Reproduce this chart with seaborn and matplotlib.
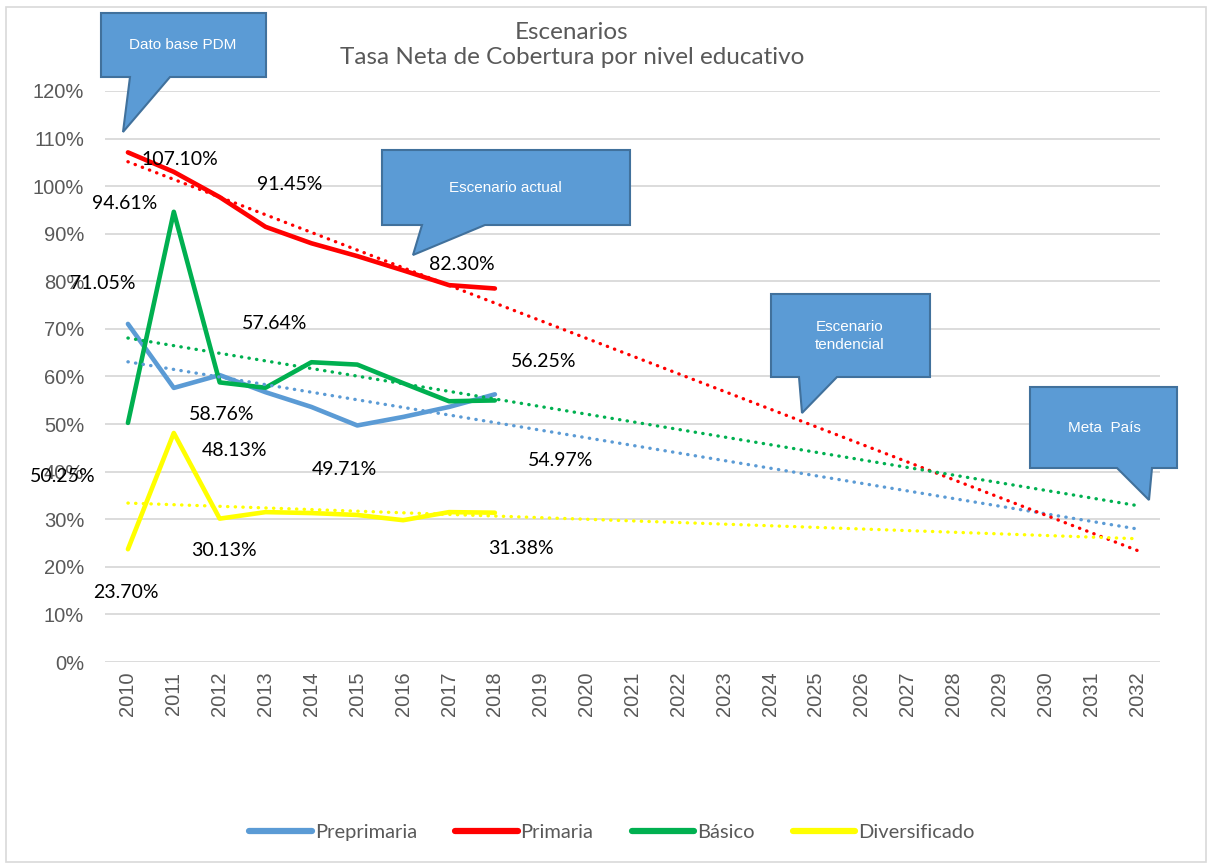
import seaborn as sns, matplotlib.pyplot as plt, pandas as pd, numpy as np
from matplotlib.patches import Polygon, Rectangle
from matplotlib.ticker import PercentFormatter

# datos
anios = list(range(2010, 2033))
anios_datos = [2010, 2011, 2012, 2013, 2014, 2015, 2016, 2017, 2018]
preprimaria = [0.7105, 0.576, 0.603, 0.567, 0.536, 0.4971, 0.515, 0.536, 0.5625]
primaria = [1.071, 1.030, 0.977, 0.9145, 0.880, 0.853, 0.823, 0.792, 0.785]
basico = [0.5025, 0.9461, 0.5876, 0.5764, 0.630, 0.625, 0.586, 0.548, 0.5497]
diversificado = [0.2370, 0.4813, 0.3013, 0.315, 0.313, 0.309, 0.298, 0.315, 0.3138]

series = ["Preprimaria", "Primaria", "Básico", "Diversificado"]
colores = ["#5B9BD5", "#FF0000", "#00B050", "#FFFF00"]

# etiquetas de datos (texto, anio, valor de posicion)
etiquetas = ["107.10%", "91.45%", "94.61%", "71.05%", "82.30%", "57.64%", "56.25%", "58.76%",
             "48.13%", "49.71%", "54.97%", "50.25%", "30.13%", "31.38%", "23.70%"]
etiq_x = [2011.13, 2013.52, 2009.93, 2009.46, 2017.28, 2013.20, 2019.07, 2012.04,
          2012.33, 2014.72, 2019.43, 2008.57, 2012.09, 2018.57, 2009.96]
etiq_y = [1.057, 1.004, 0.964, 0.796, 0.836, 0.712, 0.632, 0.521,
          0.445, 0.405, 0.424, 0.389, 0.235, 0.239, 0.147]

sns.set_theme(style="white")
plt.rcParams["font.family"] = ["Lato", "DejaVu Sans"]

W, H = 1210, 867
fig = plt.figure(figsize=(W / 100, H / 100), dpi=100)
ax = fig.add_axes([105 / W, 1 - 662 / H, (1160 - 105) / W, (662 - 91) / H])

df = pd.DataFrame({
    "anio": anios_datos * 4,
    "valor": preprimaria + primaria + basico + diversificado,
    "nivel": sum([[s] * len(anios_datos) for s in series], []),
})

sns.lineplot(data=df, x="anio", y="valor", hue="nivel", hue_order=series,
             palette=colores, lw=3.3, ax=ax, zorder=3)

# lineas de tendencia (regresion lineal extendida a 2032)
for s, c in zip(series, colores):
    y = df[df["nivel"] == s]["valor"].values
    m, b = np.polyfit(anios_datos, y, 1)
    yt = m * np.array(anios) + b
    sns.lineplot(x=anios, y=yt, color=c, lw=2.4, linestyle=(0, (0.1, 2.2)),
                 dash_capstyle="round", ax=ax, zorder=4, legend=False)

for t, x, y in zip(etiquetas, etiq_x, etiq_y):
    ax.text(x, y, t, ha="center", va="center", fontsize=14, color="black", zorder=5)

ax.set_xlim(2009.5, 2032.5)
ax.set_ylim(0, 1.2)
ax.set_xticks(anios)
ax.set_xticklabels([str(a) for a in anios], rotation=90, fontsize=14.5,
                   color="#595959", family=["Liberation Sans"])
ax.set_yticks(np.arange(0, 1.21, 0.1))
ax.yaxis.set_major_formatter(PercentFormatter(1.0, decimals=0))
for lab in ax.get_yticklabels():
    lab.set_fontsize(14.5)
    lab.set_color("#595959")
    lab.set_family(["Liberation Sans"])
ax.tick_params(axis="both", length=0)
ax.tick_params(axis="y", pad=15)
ax.tick_params(axis="x", pad=7)
ax.grid(axis="y", color="#D9D9D9", lw=1.3)
ax.set_axisbelow(True)
for sp in ax.spines.values():
    sp.set_visible(False)
ax.set_xlabel("")
ax.set_ylabel("")

h, l = ax.get_legend_handles_labels()
leg = ax.legend(h[:4], l[:4], loc="center", bbox_to_anchor=(612 / W, 1 - 832 / H),
                bbox_transform=fig.transFigure, ncol=4, frameon=False, handlelength=3.1,
                handletextpad=0.15, columnspacing=1.9, fontsize=14.5, labelcolor="#595959")
for ln in leg.get_lines():
    ln.set_linewidth(4.5)

fig.text(572 / W, 1 - 45 / H, "Escenarios\nTasa Neta de Cobertura por nivel educativo",
         ha="center", va="center", fontsize=17.5, color="#595959", linespacing=1.25)

# borde del grafico
fig.add_artist(Rectangle((6 / W, 1 - 862 / H), 1200 / W, 855 / H, transform=fig.transFigure,
                         fill=False, edgecolor="#D9D9D9", lw=1.2))


def globo(pts, texto, cx, cy):
    xy = [(px / W, 1 - py / H) for px, py in pts]
    fig.add_artist(Polygon(xy, closed=True, transform=fig.transFigure, facecolor="#5B9BD5",
                           edgecolor="#41719C", lw=1.5, zorder=10))
    fig.text(cx / W, 1 - cy / H, texto, ha="center", va="center", color="white", fontsize=11,
             family=["Liberation Sans"], zorder=11, linespacing=1.3)


globo([(101, 13), (266, 13), (266, 77), (170, 77), (123, 132), (130, 77), (101, 77)],
      "Dato base PDM", 183, 45)
globo([(382, 150), (630, 150), (630, 225), (485, 225), (413, 255), (422, 225), (382, 225)],
      "Escenario actual", 505, 188)
globo([(771, 294), (930, 294), (930, 377), (837, 377), (802, 413), (799, 377), (771, 377)],
      "Escenario\ntendencial", 850, 336)
globo([(1030, 387), (1177, 387), (1177, 468), (1152, 468), (1149, 500), (1117, 468), (1030, 468)],
      "Meta  País", 1104, 428)

fig.savefig("out.png", dpi=100)
